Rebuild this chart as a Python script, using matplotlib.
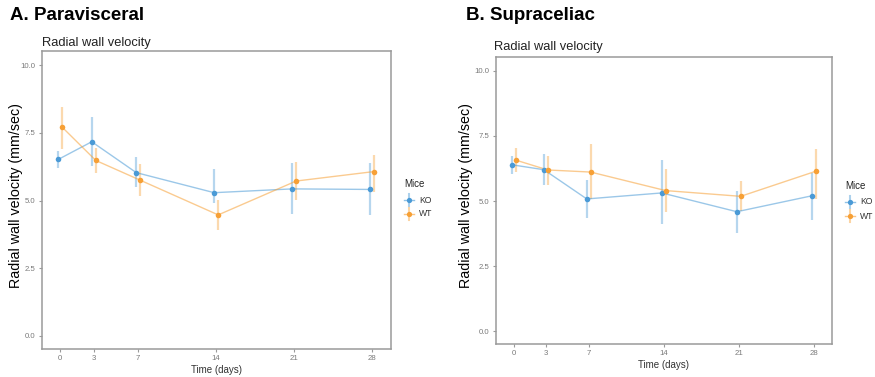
import matplotlib
matplotlib.use("Agg")
import matplotlib.pyplot as plt
from matplotlib.lines import Line2D
import numpy as np

plt.rcParams['font.family'] = ['Liberation Sans', 'DejaVu Sans']

days = [0, 3, 7, 14, 21, 28]
groups = ["KO", "WT"]

# Panel A: Paravisceral
a_ko = [6.52, 7.17, 6.03, 5.29, 5.43, 5.41]
a_ko_lo = [6.20, 6.28, 5.50, 4.92, 4.50, 4.47]
a_ko_hi = [6.83, 8.08, 6.60, 6.16, 6.38, 6.38]
a_wt = [7.70, 6.48, 5.75, 4.47, 5.72, 6.07]
a_wt_lo = [6.92, 6.01, 5.15, 3.91, 5.02, 5.33]
a_wt_hi = [8.47, 6.94, 6.35, 5.02, 6.41, 6.67]

# Panel B: Supraceliac
b_ko = [6.39, 6.20, 5.08, 5.31, 4.59, 5.20]
b_ko_lo = [6.02, 5.63, 4.36, 4.13, 3.76, 4.29]
b_ko_hi = [6.74, 6.81, 5.81, 6.56, 5.37, 6.09]
b_wt = [6.57, 6.19, 6.11, 5.40, 5.18, 6.14]
b_wt_lo = [6.10, 5.63, 5.06, 4.57, 4.61, 5.06]
b_wt_hi = [7.04, 6.71, 7.18, 6.21, 5.78, 6.99]

yticks = [0.0, 2.5, 5.0, 7.5, 10.0]
ytick_labels = ["0.0", "2.5", "5.0", "7.5", "10.0"]

c_ko = "#4a9ad6"
c_wt = "#f7a035"
dodge = 0.18

fig = plt.figure(figsize=(8.75, 3.77), dpi=100)

def panel(rect, series, title, title_xy, sub_xy, ylab_x, legend_xy):
    ax = fig.add_axes(rect)
    for i, (vals, lo, hi, col) in enumerate(series):
        x = np.array(days, dtype=float) + (-dodge if i == 0 else dodge)
        v = np.array(vals)
        ax.vlines(x, lo, hi, color=col, alpha=0.4, lw=1.6, zorder=2)
        ax.plot(x, v, color=col, alpha=0.55, lw=1.0, zorder=3)
        ax.plot(x, v, 'o', color=col, ms=4.0, mec='none', zorder=4)
    ax.set_xlim(-1.65, 29.7)
    ax.set_ylim(-0.48, 10.52)
    ax.set_xticks(days)
    ax.set_xticklabels([str(d) for d in days])
    ax.set_yticks(yticks)
    ax.set_yticklabels(ytick_labels)
    ax.tick_params(labelsize=5.6, colors="#9a9a9a", labelcolor="#7a7a7a",
                   length=2.5, width=0.8, pad=2)
    for s in ax.spines.values():
        s.set_color("#9a9a9a")
        s.set_linewidth(1.1)
    ax.set_xlabel("Time (days)", fontsize=7, color="#333333", labelpad=2)
    fig.text(ylab_x / 875, 1 - 196 / 377, "Radial wall velocity (mm/sec)",
             rotation=90, fontsize=10.3, color="black", ha="center", va="center")
    fig.text(title_xy[0] / 875, 1 - title_xy[1] / 377, title, fontsize=13.5,
             fontweight="bold", ha="left", va="center")
    fig.text(sub_xy[0] / 875, 1 - sub_xy[1] / 377, "Radial wall velocity",
             fontsize=9.3, color="#222222", ha="left", va="center")
    # legend
    lx, ly = legend_xy
    fig.text(lx / 875, 1 - ly / 377, "Mice", fontsize=7, color="#222222",
             ha="left", va="center")
    for j, (name, col) in enumerate(zip(groups, [c_ko, c_wt])):
        yy = ly + 16 + j * 14
        cx = lx + 5
        fig.add_artist(Line2D([(cx - 5) / 875, (cx + 5) / 875],
                              [1 - yy / 377, 1 - yy / 377],
                              transform=fig.transFigure, color=col, alpha=0.6, lw=1.0))
        fig.add_artist(Line2D([cx / 875, cx / 875],
                              [1 - (yy - 6) / 377, 1 - (yy + 6) / 377],
                              transform=fig.transFigure, color=col, alpha=0.45, lw=1.5))
        fig.add_artist(Line2D([cx / 875], [1 - yy / 377], transform=fig.transFigure,
                              marker='o', ms=3.8, color=col, mec='none', lw=0))
        fig.text((lx + 15) / 875, 1 - yy / 377, name, fontsize=6.2,
                 color="#333333", ha="left", va="center")
    return ax

panel([42 / 875, 1 - 349 / 377, 349 / 875, 298 / 377],
      [(a_ko, a_ko_lo, a_ko_hi, c_ko), (a_wt, a_wt_lo, a_wt_hi, c_wt)],
      "A. Paravisceral", (10, 16), (42, 43), 16, (404, 184))

panel([496 / 875, 1 - 344 / 377, 336 / 875, 287 / 377],
      [(b_ko, b_ko_lo, b_ko_hi, c_ko), (b_wt, b_wt_lo, b_wt_hi, c_wt)],
      "B. Supraceliac", (466, 16), (494, 47), 466, (845, 186))

fig.savefig("out.png", dpi=100)
